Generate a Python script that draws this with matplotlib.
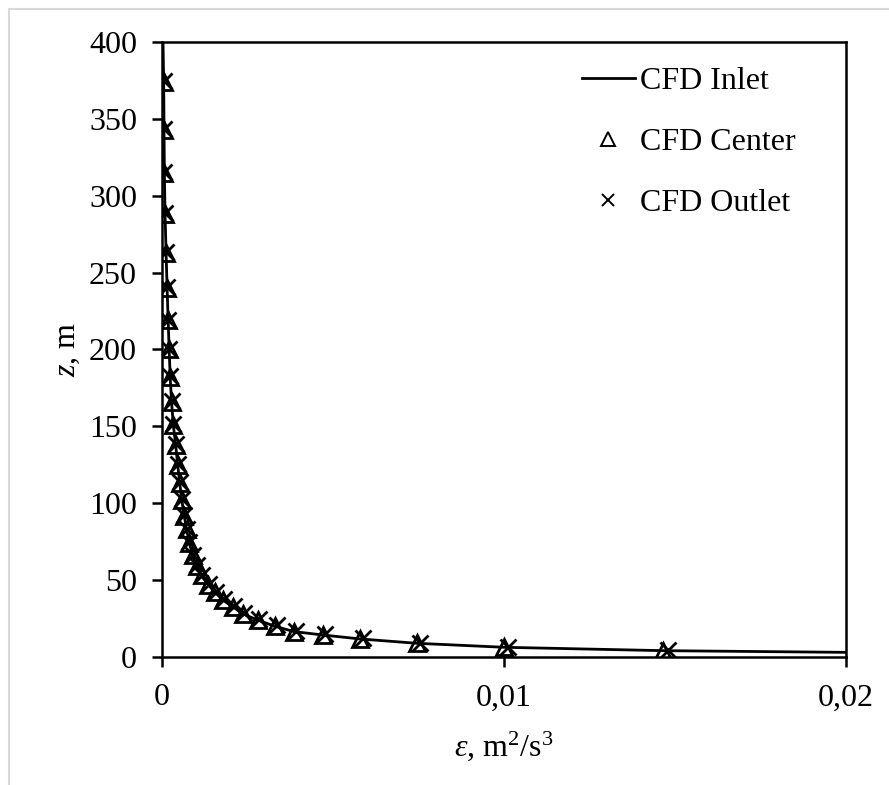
import matplotlib
matplotlib.use('Agg')
import matplotlib.pyplot as plt
from matplotlib.ticker import FuncFormatter, MultipleLocator
from matplotlib.patches import Rectangle

plt.rcParams['font.family'] = ['Liberation Serif', 'DejaVu Serif']
plt.rcParams['mathtext.fontset'] = 'custom'
plt.rcParams['mathtext.rm'] = 'Liberation Serif'
plt.rcParams['mathtext.it'] = 'Liberation Serif:italic'

# heights (m) and dissipation rate (m2/s3)
z_center = [374, 343, 315, 288, 263, 240, 219, 200, 182, 166, 151, 138, 125, 113,
            102, 92, 83, 74, 66, 59, 53, 47, 42, 37, 32.5, 28, 24, 20, 16.5,
            14.3, 11.7, 8.9, 6.3, 4.1]
eps_center = [0.00005, 0.00006, 0.00007, 0.00009, 0.00012, 0.00015, 0.00018,
              0.00021, 0.00024, 0.00028, 0.00033, 0.00040, 0.00046, 0.00052,
              0.00058, 0.00065, 0.00072, 0.00080, 0.00090, 0.00101, 0.00116,
              0.00135, 0.00155, 0.00178, 0.00208, 0.00237, 0.00280, 0.00330,
              0.00386, 0.00470, 0.00580, 0.00745, 0.01000, 0.01466]

z_outlet = [374.5, 343.5, 315.5, 288.5, 263.5, 240.5, 219.5, 200.5, 182.5, 166.5,
            151.5, 138.5, 125.5, 113.5, 102.5, 92.5, 83.5, 74.5, 66.5, 59.5, 53.5,
            47.5, 42.5, 37.5, 33, 28.5, 24.5, 20.5, 17, 14.8, 12.2, 9.4, 6.8, 4.6]
eps_outlet = [0.00005, 0.00006, 0.00007, 0.00009, 0.00012, 0.00015, 0.00018,
              0.00021, 0.00024, 0.00028, 0.00033, 0.00040, 0.00046, 0.00052,
              0.00058, 0.00065, 0.00072, 0.00080, 0.00091, 0.00102, 0.00117,
              0.00137, 0.00157, 0.00180, 0.00210, 0.00240, 0.00283, 0.00335,
              0.00392, 0.00477, 0.00588, 0.00755, 0.01012, 0.01480]

z_inlet = [400, 374, 343, 315, 288, 263, 240, 219, 200, 182, 166, 151, 138, 125,
           113, 102, 92, 83, 74, 66, 59, 53, 47, 42, 37, 32.5, 28, 24, 20, 16.5,
           14.3, 11.7, 8.9, 6.3, 4.1, 3.0, 2.2]
eps_inlet = [0.00003, 0.00005, 0.00006, 0.00007, 0.00009, 0.00012, 0.00015,
             0.00018, 0.00021, 0.00024, 0.00028, 0.00033, 0.00040, 0.00046,
             0.00052, 0.00058, 0.00065, 0.00072, 0.00080, 0.00090, 0.00101,
             0.00116, 0.00135, 0.00155, 0.00178, 0.00208, 0.00237, 0.00280,
             0.00330, 0.00386, 0.00470, 0.00580, 0.00745, 0.01000, 0.01466,
             0.02000, 0.02800]

fig = plt.figure(figsize=(8.89, 7.85), dpi=100)
ax = fig.add_axes([0.1822, 0.1631, 0.7694, 0.7834])

ax.plot(eps_inlet, z_inlet, color='black', lw=2.0, label='CFD Inlet', zorder=3)
ax.plot(eps_center, z_center, ls='none', marker='^', ms=12, mfc='none',
        mec='black', mew=2.0, label='CFD Center', zorder=4)
ax.plot(eps_outlet, z_outlet, ls='none', marker='x', ms=11, mec='black',
        mew=2.0, label='CFD Outlet', zorder=5)

ax.set_xlim(0, 0.02)
ax.set_ylim(0, 400)
ax.xaxis.set_major_locator(MultipleLocator(0.01))
ax.yaxis.set_major_locator(MultipleLocator(50))
ax.xaxis.set_major_formatter(FuncFormatter(
    lambda v, p: '0' if abs(v) < 1e-12 else ('%.2f' % v).replace('.', ',')))

for s in ax.spines.values():
    s.set_linewidth(1.8)
ax.tick_params(axis='both', direction='out', length=7, width=1.8,
               labelsize=23, top=False, right=False)
ax.tick_params(axis='y', pad=11)
ax.tick_params(axis='x', pad=12)

ax.set_xlabel(r'$\mathit{\varepsilon}$, m$^2$/s$^3$', fontsize=23, labelpad=12)
ax.set_ylabel(r'$\mathit{z}$, m', fontsize=23, labelpad=5)

leg = ax.legend(loc='upper left', bbox_to_anchor=(0.595, 0.98), frameon=False,
                fontsize=23, handlelength=1.66, handletextpad=0.16,
                labelspacing=0.98, borderaxespad=0)
hs = leg.legend_handles
hs[1].set_markersize(10.5)
hs[1].set_markeredgewidth(1.4)
hs[2].set_markersize(9)
hs[2].set_markeredgewidth(1.4)

# light frame around the chart area
fig.patches.append(Rectangle((8.5 / 889, -0.1), 1.2, 1.1 - 8.5 / 785,
                             transform=fig.transFigure, fill=False,
                             edgecolor='#d9d9d9', lw=1.5))

fig.savefig('out.png', dpi=100)
